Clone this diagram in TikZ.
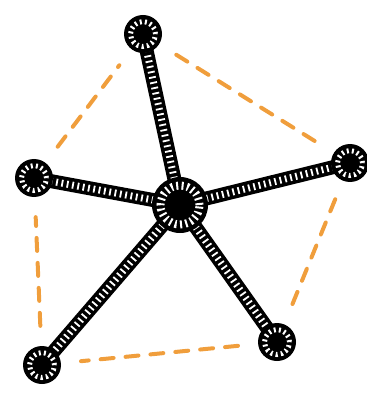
\documentclass[tikz,border=0pt]{standalone}
\usetikzlibrary{backgrounds}
\definecolor{dashorange}{RGB}{240,158,60}
\begin{document}
\begin{tikzpicture}[x=1pt,y=-1pt,
  spoke/.style={line width=14pt, black, line cap=round},
  hatch/.style={line width=7pt, white, dash pattern=on 1.8pt off 3.6pt},
  ring/.style={circle, fill=black, inner sep=0pt, minimum size=38pt,
    path picture={\draw[white, line width=5pt, dash pattern=on 2pt off 3.2pt] (path picture bounding box.center) circle (12.5pt);
                  \fill[black] (path picture bounding box.center) circle (9pt);}},
  hub/.style={circle, fill=black, inner sep=0pt, minimum size=56pt,
    path picture={\draw[white, line width=8pt, dash pattern=on 2pt off 3.4pt] (path picture bounding box.center) circle (19.5pt);
                  \fill[black] (path picture bounding box.center) circle (14pt);}},
  odash/.style={line width=4pt, dashorange, dash pattern=on 13pt off 12pt, line cap=round, shorten <=20pt, shorten >=20pt}]
\useasboundingbox (0,0) rectangle (366,403);
\node[hub] (c) at (180,205) {};
\node[ring] (t) at (143,34) {};
\node[ring] (r) at (350,163) {};
\node[ring] (br) at (277,342) {};
\node[ring] (bl) at (42,365) {};
\node[ring] (l) at (34,178) {};
\begin{scope}[on background layer]
  \foreach \n in {t,r,br,bl,l} {
    \draw[spoke] (c.center) -- (\n.center);
    \draw[hatch] (c.center) -- (\n.center);
  }
\end{scope}
\draw[odash] (t) -- (r);
\draw[odash] (r) -- (br);
\draw[odash] (br) -- (bl);
\draw[odash] (bl) -- (l);
\draw[odash] (l) -- (t);
\end{tikzpicture}
\end{document}
